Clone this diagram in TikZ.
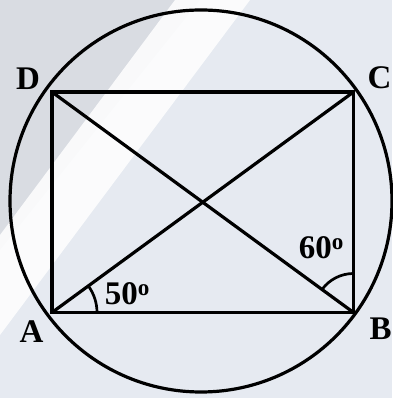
\documentclass[tikz,border=0pt]{standalone}
\usepackage{fontspec}
\setmainfont{Liberation Serif}
\definecolor{bgbase}{HTML}{E6EAF1}
\definecolor{bggrey}{HTML}{D9DCE2}

\begin{document}
\begin{tikzpicture}[x=1pt, y=1pt, line width=3.2pt,
  every node/.style={font=\fontsize{33}{38}\selectfont\bfseries, inner sep=0pt},
  angmark/.style={line width=2.7pt}]
  \useasboundingbox (0,0) rectangle (392,398);
  % background
  \fill[bgbase] (0,0) rectangle (392,398);
  \fill[bggrey] (0,398) -- (200,398) -- (0,148) -- cycle;
  \fill[white, opacity=0.85] (175,398) -- (250,398) -- (0,63) -- (0,163) -- cycle;
  % points
  \coordinate (A) at (52,85.5);
  \coordinate (B) at (353.5,85.5);
  \coordinate (C) at (353.5,306);
  \coordinate (D) at (52,306);
  \coordinate (O) at (201,197);
  % circle, rectangle and diagonals
  \draw (O) circle[radius=191];
  \draw (A) -- (B) -- (C) -- (D) -- cycle;
  \draw (A) -- (C);
  \draw (B) -- (D);
  % angles
  \draw[angmark] ([shift={(0:45)}]A) arc[start angle=0, end angle=36.2, radius=45];
  \draw[angmark] ([shift={(90:39)}]B) arc[start angle=90, end angle=143.8, radius=39];
  % labels
  \node (labA) at (31.5,66) {A};
  \node (labB) at (380.5,69) {B};
  \node (labC) at (379.5,320.5) {C};
  \node (labD) at (28,319.5) {D};
  \node (ang50) at (127.5,104.5) {50\textsuperscript{o}};
  \node (ang60) at (321.5,150.5) {60\textsuperscript{o}};
\end{tikzpicture}
\end{document}
